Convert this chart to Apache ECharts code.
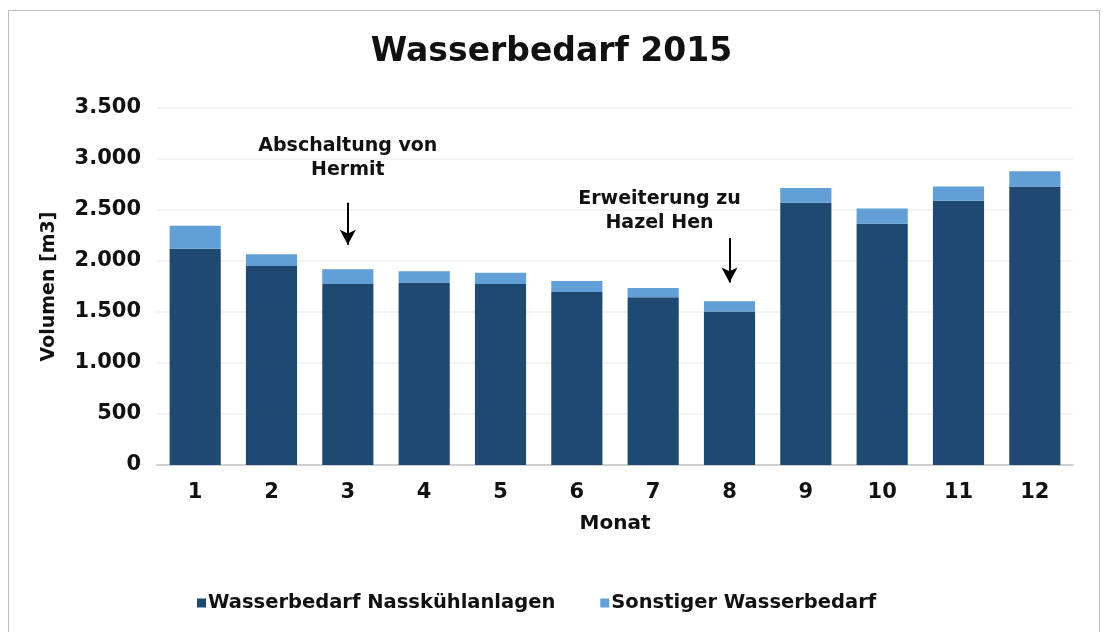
<!DOCTYPE html>
<html>
<head>
<meta charset="utf-8">
<script src="https://cdn.jsdelivr.net/npm/echarts@6/dist/echarts.min.js"></script>
<style>
	html, body { margin: 0; padding: 0; background: #fff; }
	#frame { position: absolute; left: 8px; top: 10px; width: 1092px; height: 640px; border: 1px solid #bdbdbd; box-sizing: border-box; }
	#chart { position: absolute; left: 0; top: 0; width: 1103px; height: 632px; }
</style>
</head>
<body>
<div id="frame"></div>
<div id="chart"></div>
<script>
	const months = ['1', '2', '3', '4', '5', '6', '7', '8', '9', '10', '11', '12'];
	// Wasserbedarf Nasskühlanlagen
	const nass = [2120, 1950, 1775, 1790, 1775, 1695, 1645, 1505, 2570, 2365, 2590, 2730];
	// Sonstiger Wasserbedarf
	const sonst = [225, 115, 145, 110, 110, 110, 90, 100, 145, 150, 140, 150];
	// Anmerkungen: Monat, Textposition (m3), Pfeil von / bis (m3)
	const notes = [
		{ month: '3', text: 'Abschaltung von\nHermit', at: 3005, from: 2570, to: 2160, dx: 0 },
		{ month: '8', text: 'Erweiterung zu\nHazel Hen', at: 2485, from: 2225, to: 1790, dx: -70 }
	];

	const font = '"DejaVu Sans", sans-serif';
	const chart = echarts.init(document.getElementById('chart'));

	const option = {
		color: ['#1f4970', '#629fd6'],
		textStyle: { fontFamily: font, fontWeight: 'bold', color: '#111' },
		title: {
			text: 'Wasserbedarf 2015',
			left: 'center',
			top: 31,
			textStyle: { fontFamily: font, fontSize: 33, fontWeight: 'bold', color: '#111' }
		},
		legend: {
			left: 192,
			top: 588,
			itemWidth: 9,
			itemHeight: 9,
			itemGap: 45,
			icon: 'rect',
			textStyle: { fontFamily: font, fontSize: 19.5, fontWeight: 'bold', color: '#111', padding: [0, 0, 0, -3] }
		},
		grid: { left: 157, right: 30, top: 108, bottom: 167 },
		xAxis: {
			type: 'category',
			data: months,
			name: 'Monat',
			nameLocation: 'middle',
			nameGap: 49,
			nameTextStyle: { fontSize: 20, fontWeight: 'bold', color: '#111' },
			axisTick: { show: false },
			axisLine: { lineStyle: { color: '#cfcfcf', width: 2 } },
			axisLabel: { fontSize: 21, fontWeight: 'bold', color: '#111', margin: 17 }
		},
		yAxis: {
			type: 'value',
			min: 0,
			max: 3500,
			interval: 500,
			name: 'Volumen [m3]',
			nameLocation: 'middle',
			nameGap: 98,
			nameTextStyle: { fontSize: 19, fontWeight: 'bold', color: '#111' },
			axisLine: { show: false },
			axisTick: { show: false },
			splitLine: { lineStyle: { color: '#efefef', width: 1.5 } },
			axisLabel: {
				fontSize: 21, fontWeight: 'bold', color: '#111', margin: 16,
				formatter: v => String(v).replace(/\B(?=(\d{3})+(?!\d))/g, '.')
			}
		},
		series: [
			{
				name: 'Wasserbedarf Nasskühlanlagen',
				type: 'bar',
				stack: 'w',
				barWidth: '67%',
				data: nass,
				markLine: {
					silent: true,
					symbol: ['none', 'arrow'],
					symbolSize: [12, 15],
					lineStyle: { color: '#000', width: 2, type: 'solid' },
					label: { show: false },
					data: notes.map(n => [{ coord: [n.month, n.from] }, { coord: [n.month, n.to] }])
				}
			},
			{
				name: 'Sonstiger Wasserbedarf',
				type: 'bar',
				stack: 'w',
				barWidth: '67%',
				data: sonst
			}
		]
	};

	chart.setOption(option);

	// Beschriftungen über den Pfeilen
	chart.setOption({
		graphic: notes.map(n => {
			const p = chart.convertToPixel({ gridIndex: 0 }, [n.month, n.at]);
			return {
				type: 'text',
				x: p[0] + n.dx,
				y: p[1],
				style: {
					text: n.text,
					font: 'bold 19px ' + font,
					fill: '#111',
					align: 'center',
					verticalAlign: 'middle',
					lineHeight: 24
				}
			};
		})
	});
</script>
</body>
</html>
